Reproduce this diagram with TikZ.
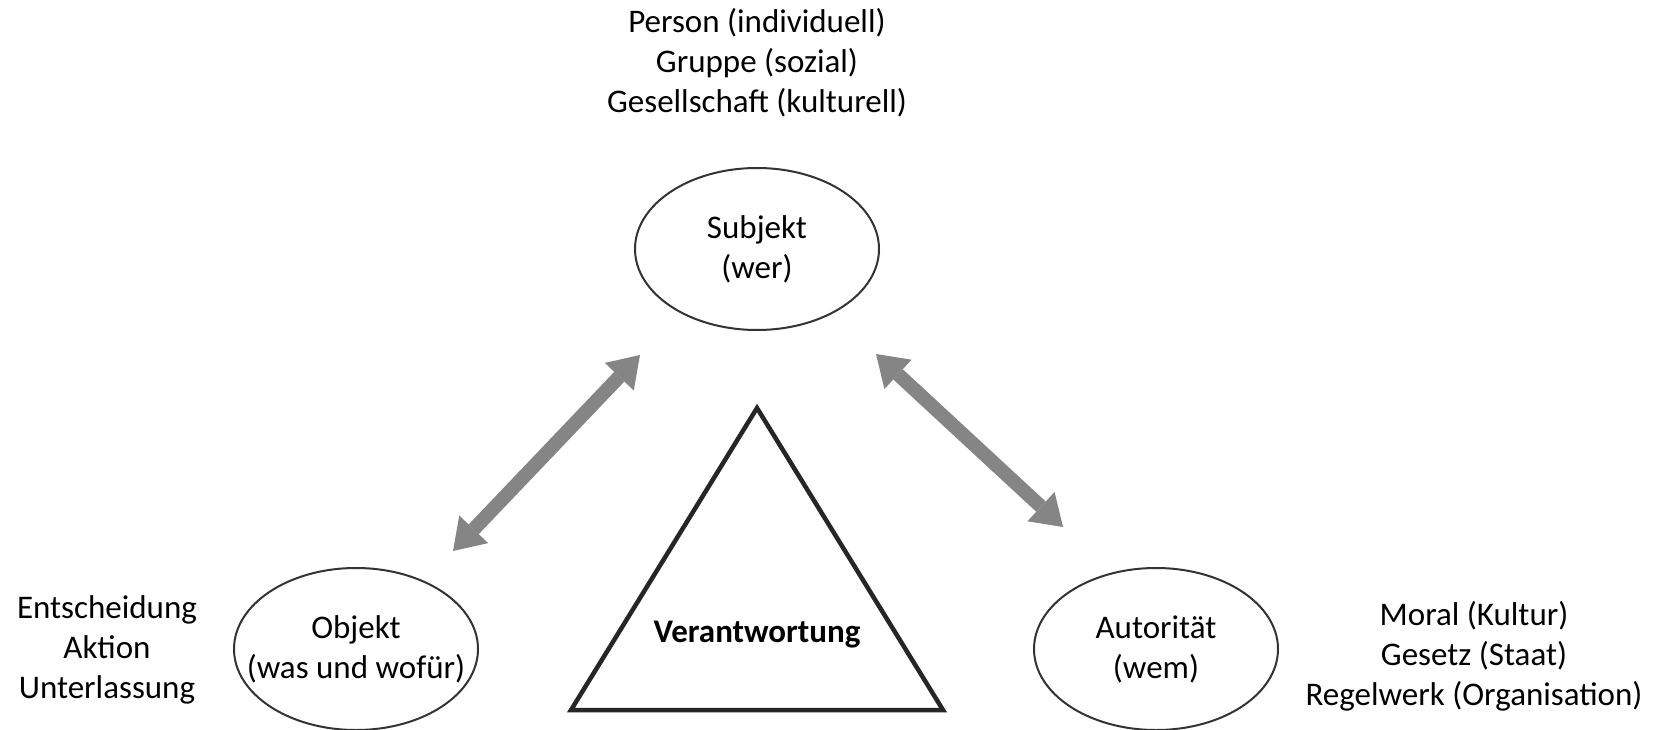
\documentclass[tikz,border=0pt]{standalone}
\usepackage{fontspec}
\setmainfont{Carlito}
\usetikzlibrary{shapes.geometric,arrows.meta}
\begin{document}
\begin{tikzpicture}[x=1pt, y=-1pt, font=\fontsize{33}{40}\selectfont,
    rolle/.style = {ellipse, draw=black!80, line width=2pt, minimum width=244pt, minimum height=162pt, inner xsep=-28pt, inner ysep=0pt, align=center},
    liste/.style = {align=center},
    pfeil/.style = {line width=14pt, color=black!48, {Triangle[width=40pt,length=30pt,line width=0pt]}-{Triangle[width=40pt,length=30pt,line width=0pt]}}]
  \useasboundingbox (0,0) rectangle (1661,730);

  \node[rolle] (subjekt) at (757,249) {Subjekt\\(wer)};
  \node[rolle] (objekt) at (356,649) {Objekt\\(was und wofür)};
  \node[rolle] (autoritaet) at (1156,649) {Autorität\\(wem)};

  \node[liste] (wer) at (757,63) {Person (individuell)\\Gruppe (sozial)\\Gesellschaft (kulturell)};
  \node[liste] (was) at (107,650) {Entscheidung\\Aktion\\Unterlassung};
  \node[liste] (wem) at (1474,656) {Moral (Kultur)\\Gesetz (Staat)\\Regelwerk (Organisation)};

  % Dreieck
  \coordinate (spitze) at (757,408);
  \coordinate (links) at (571,710);
  \coordinate (rechts) at (943,710);
  \draw[line width=4.5pt, draw=black!85] (spitze) -- (links) -- (rechts) -- cycle;
  \node[font=\fontsize{33}{40}\selectfont\bfseries] (verantwortung) at (757,635) {Verantwortung};

  % Pfeile
  \coordinate (o1) at (453,551);
  \coordinate (s1) at (640,355);
  \coordinate (s2) at (876,354);
  \coordinate (a1) at (1063,527);
  \path[pfeil] (o1) edge (s1);
  \path[pfeil] (s2) edge (a1);
\end{tikzpicture}
\end{document}
